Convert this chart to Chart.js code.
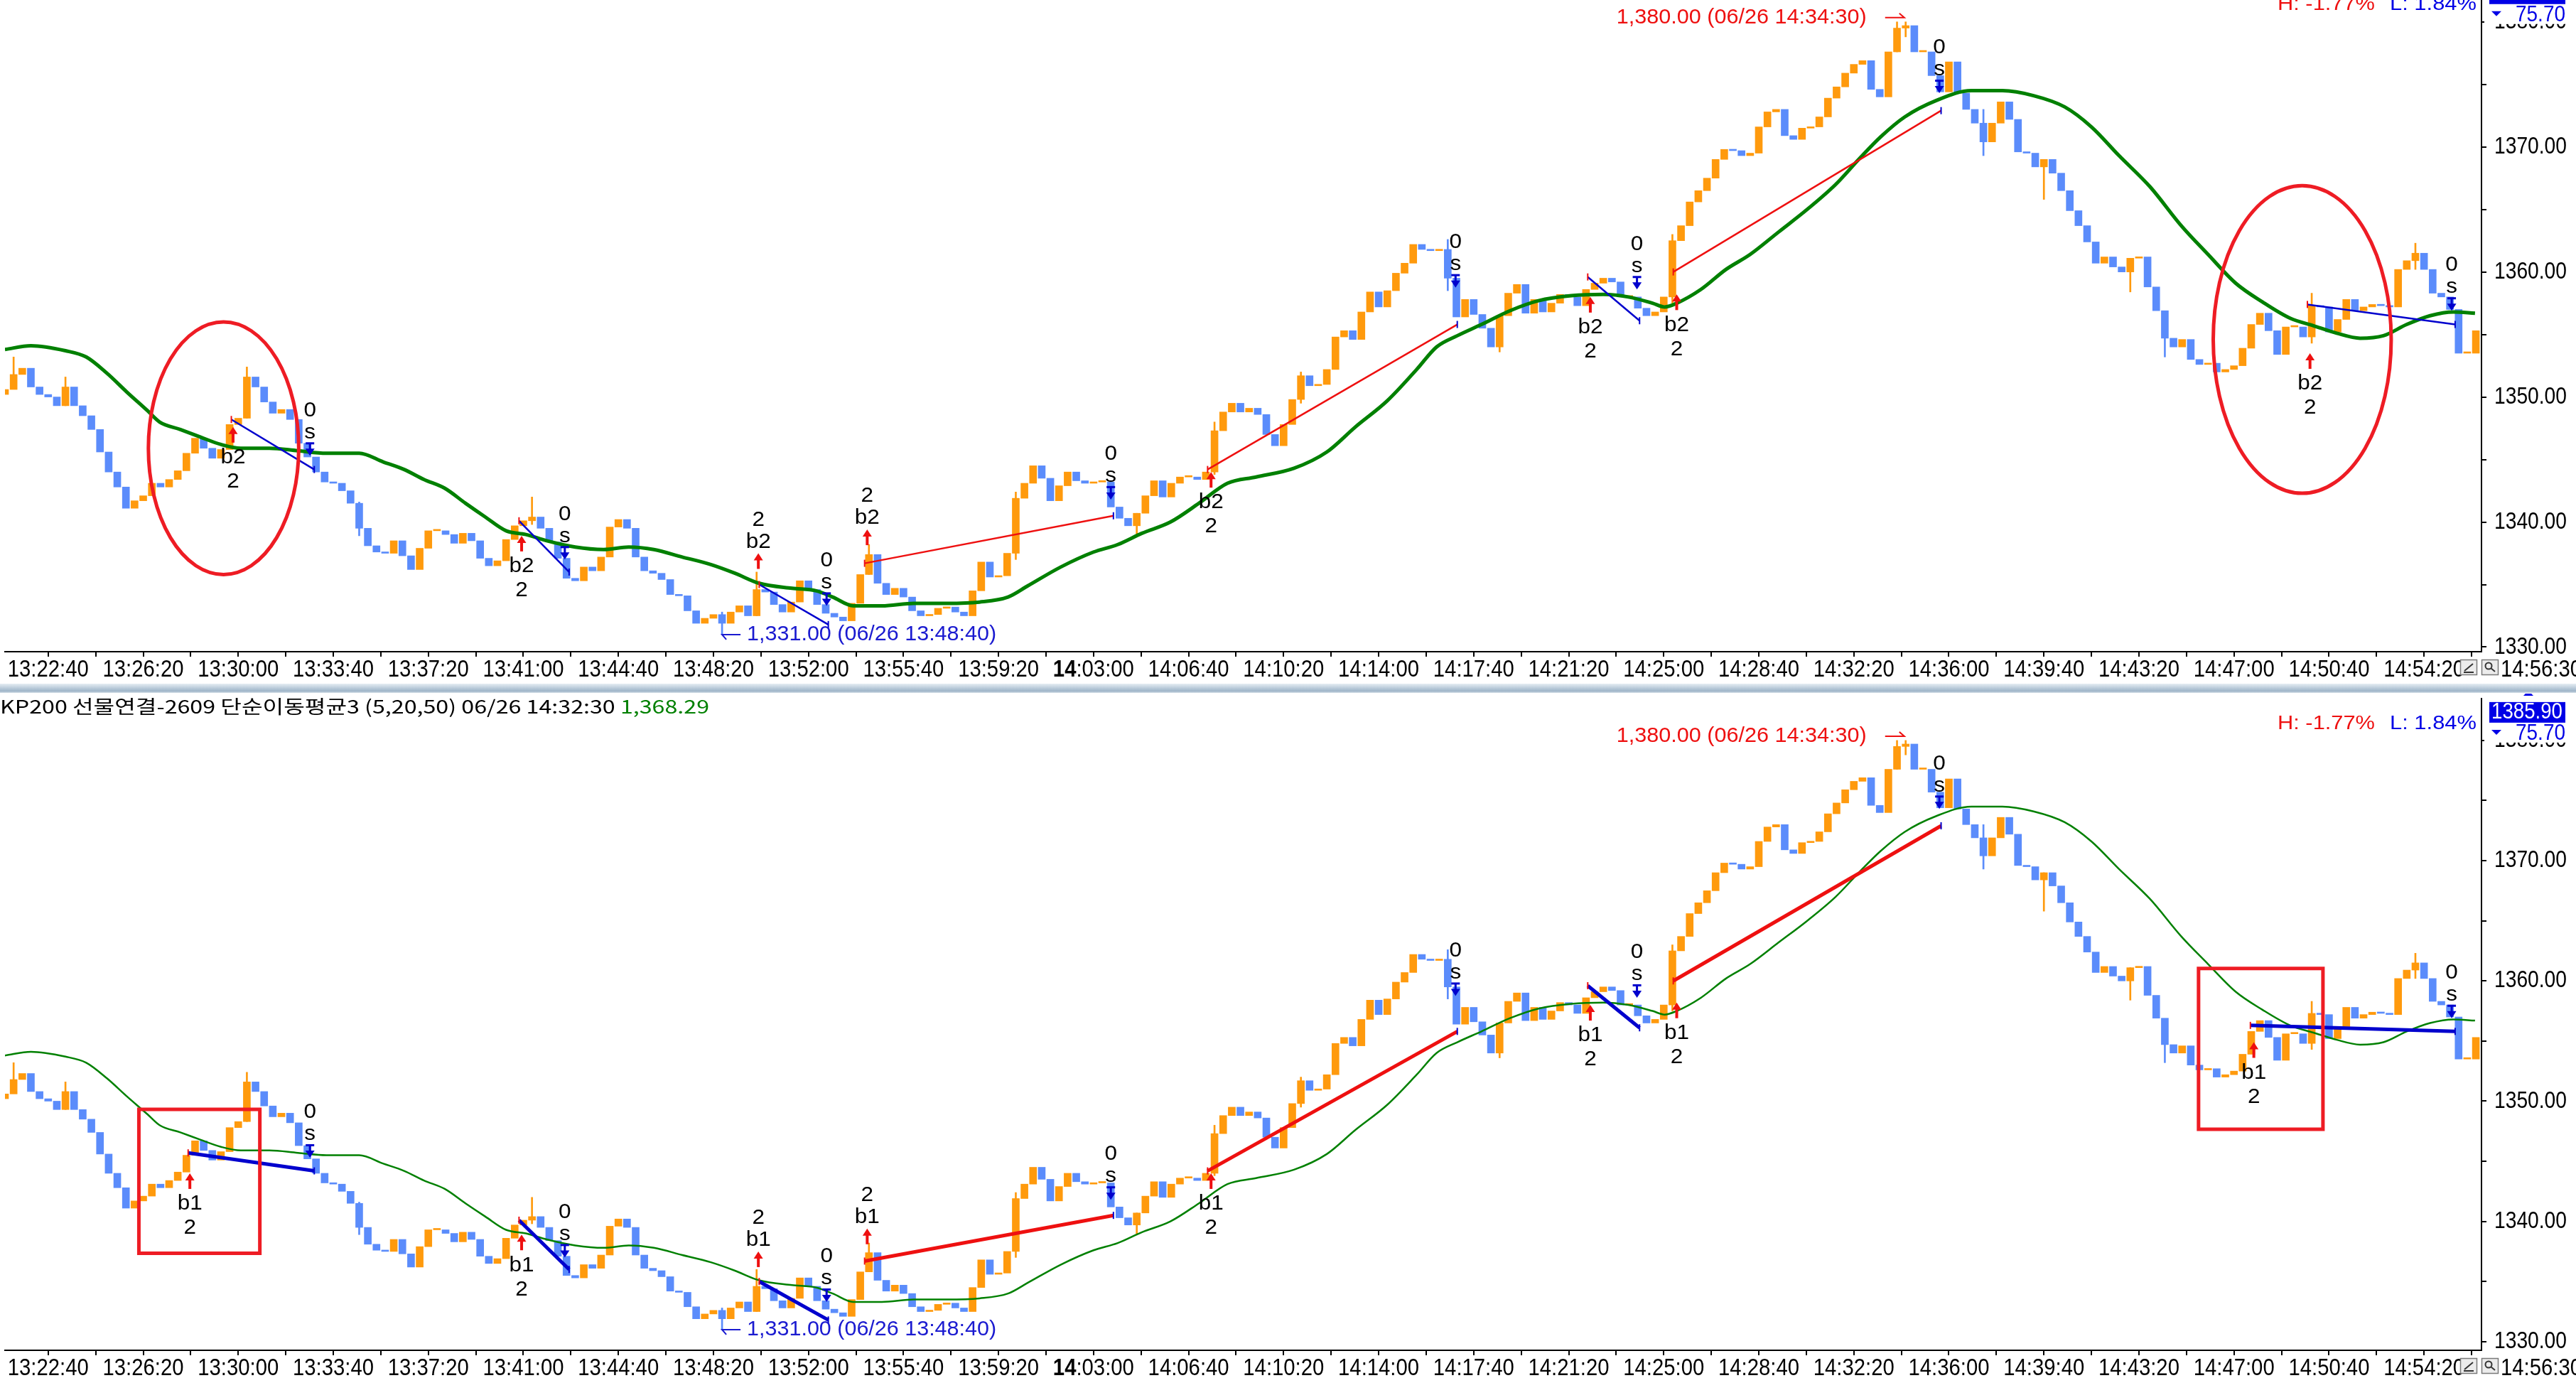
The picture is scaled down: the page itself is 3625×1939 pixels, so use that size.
<!DOCTYPE html>
<html>
<head>
<meta charset="utf-8">
<script src="https://cdn.jsdelivr.net/npm/chart.js@4.4.1/dist/chart.umd.min.js"></script>
<style>
html, body { margin: 0; padding: 0; background: #fff; overflow: hidden; }
body { width: 3625px; height: 1939px; position: relative; }
.panel { position: absolute; left: 0; width: 3625px; }
#topWrap { top: -35px; height: 997px; }
#bottomWrap { top: 976px; height: 963px; }
#sep { position: absolute; left: 0; top: 962px; width: 3625px; height: 13px;
  background: linear-gradient(#e6edf3, #b3c6d6 55%, #9fb5c8 80%, #d6e0e8); }
</style>
</head>
<body>
<div id="topWrap" class="panel"><canvas id="topChart" width="3625" height="997"></canvas></div>
<div id="sep"></div>
<div id="bottomWrap" class="panel"><canvas id="bottomChart" width="3625" height="963"></canvas></div>
<script>
// ---- data (20 second bars from 13:21:00) ----
const startTime = '13:21:00';
const barSec = 20;
const firstOpen = 1350.2;
const closes = [
  1350.6, 1351.8, 1352.3, 1350.8, 1350.2, 1350.0, 1349.3, 1350.8, 1349.3, 1348.5,
  1347.4, 1345.6, 1344.0, 1342.8, 1341.1, 1341.7, 1342.1, 1343.1, 1342.8, 1343.4,
  1344.1, 1345.5, 1346.7, 1345.9, 1345.1, 1345.8, 1347.8, 1348.3, 1351.6, 1350.8,
  1349.6, 1348.7, 1349.0, 1348.2, 1346.3, 1345.2, 1344.0, 1343.2, 1343.1, 1342.5,
  1341.5, 1339.5, 1338.1, 1337.6, 1337.5, 1338.5, 1337.3, 1336.2, 1337.9, 1339.3,
  1339.3, 1339.0, 1338.3, 1339.1, 1338.5, 1337.1, 1336.5, 1336.9, 1338.6, 1339.7,
  1340.1, 1340.4, 1339.5, 1338.4, 1337.1, 1335.5, 1335.3, 1336.4, 1336.1, 1337.2,
  1339.6, 1340.2, 1339.5, 1337.2, 1336.1, 1335.9, 1335.4, 1334.2, 1334.1, 1332.9,
  1331.9, 1332.3, 1332.6, 1331.9, 1332.8, 1333.3, 1332.5, 1334.6, 1334.4, 1333.4,
  1332.8, 1333.6, 1335.3, 1334.6, 1333.4, 1332.7, 1332.4, 1332.1, 1333.5, 1335.8,
  1337.4, 1335.1, 1334.2, 1334.7, 1334.0, 1332.9, 1332.5, 1332.6, 1333.1, 1333.2,
  1332.8, 1332.5, 1334.5, 1336.8, 1335.6, 1335.7, 1337.5, 1341.9, 1343.1, 1344.5,
  1343.5, 1341.7, 1342.9, 1344.0, 1343.3, 1343.1, 1343.2, 1343.2, 1341.2, 1340.3,
  1339.7, 1340.7, 1342.1, 1343.3, 1342.0, 1343.1, 1343.6, 1343.6, 1343.4, 1344.0,
  1347.3, 1348.8, 1349.5, 1348.8, 1349.1, 1348.6, 1347.0, 1346.1, 1347.8, 1349.8,
  1351.7, 1350.9, 1351.0, 1352.2, 1354.8, 1355.3, 1354.6, 1356.8, 1358.4, 1357.2,
  1358.5, 1359.9, 1360.7, 1362.2, 1361.8, 1361.7, 1361.8, 1359.5, 1356.4, 1357.8,
  1356.6, 1355.5, 1354.0, 1356.5, 1358.3, 1359.0, 1356.7, 1357.8, 1356.8, 1357.5,
  1358.2, 1358.0, 1357.3, 1358.6, 1359.1, 1359.5, 1359.2, 1358.0, 1358.0, 1357.1,
  1356.5, 1356.8, 1358.0, 1362.5, 1363.7, 1365.6, 1366.5, 1367.5, 1369.0, 1369.8,
  1369.7, 1369.3, 1369.5, 1371.6, 1372.8, 1373.0, 1370.9, 1370.6, 1371.5, 1371.6,
  1372.4, 1373.9, 1374.8, 1375.9, 1376.6, 1376.9, 1374.6, 1374.0, 1377.6, 1379.5,
  1379.7, 1377.6, 1377.6, 1375.7, 1374.4, 1376.8, 1374.3, 1373.0, 1371.9, 1370.4,
  1371.9, 1373.6, 1372.2, 1369.6, 1369.5, 1368.4, 1369.0, 1367.9, 1366.5, 1364.9,
  1363.7, 1362.4, 1360.7, 1361.2, 1360.4, 1360.0, 1361.1, 1361.2, 1358.8, 1356.9,
  1354.7, 1354.0, 1354.6, 1353.0, 1352.6, 1352.7, 1352.0, 1352.2, 1352.5, 1353.9,
  1355.8, 1356.7, 1355.3, 1353.4, 1355.6, 1355.6, 1354.8, 1357.3, 1357.2, 1355.2,
  1356.2, 1357.8, 1356.9, 1357.2, 1357.4, 1357.3, 1357.2, 1360.2, 1360.9, 1361.5,
  1360.2, 1358.3, 1358.0, 1357.0, 1353.5, 1353.5, 1355.3
];
// long wicks
const wickIdx  = [1, 7, 28, 41, 61, 83, 87, 100, 117, 131, 140, 150, 167, 173, 193, 219, 220, 229, 236, 246, 250, 267, 279];
const wickLow  = [1351.0, 1349.3, 1348.3, 1338.9, 1339.8, 1331.0, 1332.5, 1335.8, 1337.0, 1338.9, 1343.8, 1349.5, 1358.5, 1353.6, 1357.5, 1377.6, 1378.8, 1369.3, 1365.8, 1358.4, 1353.2, 1354.3, 1360.2];
const wickHigh = [1353.2, 1351.6, 1352.4, 1341.6, 1342.0, 1332.8, 1336.0, 1338.2, 1342.4, 1340.7, 1348.0, 1352.0, 1362.6, 1356.5, 1363.0, 1380.0, 1380.0, 1373.0, 1369.0, 1361.1, 1355.0, 1358.3, 1362.3];

// moving average
const maIdx = [0, 3, 7, 9.4, 11.8, 14.1, 16.5, 17.9, 20.3, 22.6, 25, 27.3, 30.6, 33.9, 37.2, 41, 43.8, 46.2,
  48.5, 50.9, 53.3, 55.6, 58, 60.3, 62.7, 66, 69.3, 72.2, 75.1, 78.4, 81.7, 84.5, 87.3, 91.1, 93.9, 95.8,
  98.2, 101.5, 105.2, 109, 112.8, 116.1, 118.4, 122.2, 126, 128.8, 131.6, 134.9, 138.2, 141.5, 144.8,
  149.2, 153, 156.3, 160, 163.4, 165.7, 168.1, 170.9, 174.2, 177.5, 181.3, 185, 187.9, 190.7, 192.1,
  193.5, 196.3, 199.2, 202, 205.3, 208.6, 211.9, 214.7, 217.1, 219.9, 223.5, 227.6, 231.2, 234.8,
  238.4, 241.5, 244.7, 248.3, 251.9, 255, 258.2, 261.3, 264.5, 267.2, 269.9, 272.6, 275.3, 278,
  280.7, 283.4, 285.9];
const maVals = [1353.8, 1354.1, 1353.7, 1353.2, 1351.9, 1350.4, 1348.9, 1348.0, 1347.4, 1346.8, 1346.2,
  1345.9, 1345.9, 1345.7, 1345.5, 1345.5, 1344.8, 1344.2, 1343.4, 1342.7, 1341.5, 1340.4, 1339.3, 1339.0,
  1338.5, 1338.0, 1337.8, 1338.0, 1337.8, 1337.2, 1336.6, 1335.9, 1335.1, 1334.7, 1334.5, 1334.0, 1333.3,
  1333.3, 1333.5, 1333.5, 1333.6, 1334.0, 1334.9, 1336.4, 1337.6, 1338.2, 1339.1, 1340.0, 1341.5, 1343.1,
  1343.6, 1344.3, 1345.6, 1347.6, 1349.7, 1352.2, 1354.0, 1354.9, 1355.8, 1356.9, 1357.7, 1358.1, 1358.2,
  1358.0, 1357.5, 1357.2, 1357.5, 1358.6, 1360.2, 1361.4, 1363.2, 1365.0, 1367.0, 1369.1, 1370.8, 1372.4,
  1373.7, 1374.5, 1374.5, 1374.1, 1373.2, 1371.6, 1369.3, 1366.8, 1363.7, 1361.4, 1359.1, 1357.6, 1356.3,
  1355.7, 1355.1, 1354.7, 1354.9, 1355.8, 1356.5, 1356.8, 1356.7];

const xTickLabels = ['13:22:40', '13:26:20', '13:30:00', '13:33:40', '13:37:20', '13:41:00', '13:44:40',
  '13:48:20', '13:52:00', '13:55:40', '13:59:20', '14:03:00', '14:06:40', '14:10:20', '14:14:00',
  '14:17:40', '14:21:20', '14:25:00', '14:28:40', '14:32:20', '14:36:00', '14:39:40', '14:43:20',
  '14:47:00', '14:50:40', '14:54:20'];
const lastTimeLabel = '14:56:30';
const yTickValues = [1330, 1335, 1340, 1345, 1350, 1355, 1360, 1365, 1370, 1375, 1380];

// trades: entries differ between the two strategies, exits are shared
const topEntryIdx = [26.2, 59.5, 87.3, 99.5, 139.2, 183.2, 193.1, 266.5];
const topEntryPx  = [1348.2, 1340.1, 1335.0, 1336.7, 1344.2, 1359.6, 1360.0, 1357.4];
const botEntryIdx = [21.2, 59.5, 87.3, 99.5, 139.2, 183.2, 193.1, 259.9];
const botEntryPx  = [1345.7, 1340.1, 1335.0, 1336.7, 1344.2, 1359.6, 1360.0, 1356.3];
const exitIdx = [35.8, 65.3, 95.3, 128.3, 168.1, 189.2, 224.1, 283.6];
const exitPx  = [1344.2, 1336.0, 1331.8, 1340.5, 1355.8, 1356.1, 1372.9, 1355.8];

// signal markers (arrow tip price)
const topBuyIdx = [26.4, 59.8, 87.2, 99.8, 139.6, 183.5, 193.5, 266.8];
const topBuyTip = [1347.6, 1338.9, 1337.5, 1339.4, 1344.0, 1358.0, 1358.2, 1353.5];
const botBuyIdx = [21.4, 59.8, 87.2, 99.8, 139.6, 183.5, 193.5, 260.3];
const botBuyTip = [1344.0, 1338.9, 1337.5, 1339.4, 1344.0, 1358.0, 1358.2, 1354.9];
const buySide = ['below', 'below', 'above', 'above', 'below', 'below', 'below', 'below'];
const sellIdx = [35.3, 64.8, 95.1, 128.0, 167.9, 188.9, 223.9, 283.2];
const sellTip = [1345.3, 1337.0, 1333.3, 1341.8, 1358.75, 1358.6, 1374.3, 1356.9];

const hiVal = 1380.00, hiTime = '14:34:30';
const loVal = 1331.00, loTime = '13:48:40';
const titleText = 'KP200 선물연결-2609 단순이동평균3 (5,20,50) 06/26 14:32:30 ';
const maCursorVal = '1,368.29';
const priceBox = '1385.90', rangeText = '75.70', hiPct = 'H: -1.77%', loPct = 'L: 1.84%';

// ---- helpers ----
const ORANGE = '#ff9a0d', BLUE = '#5b8cfb', GREEN = '#008000';
const RED = '#ee1010', DKBLUE = '#0000cd', BOXBLUE = '#0000e6';
const REG = "'Liberation Sans', Arial, sans-serif";

const toSec = t => { const [h, m, s] = t.split(':').map(Number); return h * 3600 + m * 60 + s; };
const toIdx = t => (toSec(t) - toSec(startTime)) / barSec;
const majorTicks = xTickLabels.map(toIdx);
const xTicks = majorTicks.concat(majorTicks.map(v => v + 5.5)).sort((a, b) => a - b);

// sx: horizontal squeeze factor, width: exact target width (overrides sx)
function text(ctx, str, x, y, font, color, align, width, sx) {
  ctx.save();
  ctx.font = font;
  ctx.fillStyle = color;
  ctx.textBaseline = 'middle';
  const w = ctx.measureText(str).width;
  const k = width ? width / w : (sx || 1);
  ctx.translate(x, y);
  ctx.scale(k, 1);
  const off = align === 'right' ? -w : align === 'center' ? -w / 2 : 0;
  ctx.fillText(str, off, 0);
  ctx.restore();
  return w * k;
}

function tri(ctx, x, y, w, h, color) {  // tip at (x,y); h>0 -> base below tip
  ctx.fillStyle = color;
  ctx.beginPath();
  ctx.moveTo(x, y);
  ctx.lineTo(x - w / 2, y + h);
  ctx.lineTo(x + w / 2, y + h);
  ctx.closePath();
  ctx.fill();
}

function makeOverlay(p) {
  return {
    id: 'overlay',
    afterDatasetsDraw(chart) {
      const ctx = chart.ctx, xs = chart.scales.x, ys = chart.scales.y, ca = chart.chartArea;
      const X = v => xs.getPixelForValue(v), Y = v => ys.getPixelForValue(v);

      ctx.save();
      ctx.beginPath();
      ctx.rect(ca.left, ca.top, ca.right - ca.left, ca.bottom - ca.top);
      ctx.clip();

      // highlight shapes
      ctx.strokeStyle = '#ee1c24';
      ctx.lineWidth = 5;
      p.highlights.forEach(h => {
        const x0 = X(h.i0), x1 = X(h.i1), y0 = Y(h.p1), y1 = Y(h.p0);
        ctx.beginPath();
        if (h.shape === 'ellipse') ctx.ellipse((x0 + x1) / 2, (y0 + y1) / 2, (x1 - x0) / 2, (y1 - y0) / 2, 0, 0, Math.PI * 2);
        else ctx.rect(x0, y0, x1 - x0, y1 - y0);
        ctx.stroke();
      });

      // buy signals
      const mfont = '30px ' + REG;
      p.buyIdx.forEach((bi, k) => {
        const x = X(bi), y = Y(p.buyTip[k]);
        tri(ctx, x, y, 13, 10, RED);
        ctx.fillStyle = RED;
        ctx.fillRect(x - 2, y + 9, 4, 13);
        if (buySide[k] === 'below') {
          text(ctx, p.tag, x, y + 43, mfont, '#000', 'center', 0, 1.05);
          text(ctx, '2', x, y + 77, mfont, '#000', 'center', 0, 1.05);
        } else {
          text(ctx, p.tag, x, y - 16, mfont, '#000', 'center', 0, 1.05);
          text(ctx, '2', x, y - 47, mfont, '#000', 'center', 0, 1.05);
        }
      });

      // exit signals
      sellIdx.forEach((si, k) => {
        const x = X(si), y = Y(sellTip[k]);
        tri(ctx, x, y, 13, -10, DKBLUE);
        ctx.fillStyle = DKBLUE;
        ctx.fillRect(x - 1.5, y - 17, 3, 8);
        ctx.fillRect(x - 6, y - 19, 12, 3);
        text(ctx, 's', x, y - 33, mfont, '#000', 'center', 0, 1.05);
        text(ctx, '0', x, y - 64, mfont, '#000', 'center', 0, 1.05);
      });

      // high / low notes
      const afont = '30px ' + REG;
      let x = X(toIdx(hiTime)), y = Y(hiVal) - 6;
      text(ctx, hiVal.toLocaleString('en-US', {minimumFractionDigits: 2}) + ' (06/26 ' + hiTime + ')',
        x - 61, y, afont, RED, 'right', 352);
      ctx.strokeStyle = RED; ctx.lineWidth = 2;
      ctx.beginPath(); ctx.moveTo(x - 35, y); ctx.lineTo(x - 8, y); ctx.lineTo(x - 15, y - 6); ctx.stroke();
      x = X(toIdx(loTime)); y = Y(loVal);
      text(ctx, loVal.toLocaleString('en-US', {minimumFractionDigits: 2}) + ' (06/26 ' + loTime + ')',
        x + 35, y, afont, '#1a1ad0', 'left', 351);
      ctx.strokeStyle = '#1a1ad0';
      ctx.beginPath(); ctx.moveTo(x + 26, y); ctx.lineTo(x, y); ctx.lineTo(x + 6, y + 7); ctx.stroke();
      ctx.restore();

      // title line
      ctx.save();
      const tfont = '26px "Noto Sans CJK KR", sans-serif';
      ctx.font = tfont;
      const w1 = ctx.measureText(titleText).width, w2 = ctx.measureText(maCursorVal).width;
      const sc = 998 / (w1 + w2);
      text(ctx, titleText, 0, ca.top + 11, tfont, '#000', 'left', w1 * sc);
      text(ctx, maCursorVal, w1 * sc, ca.top + 11, tfont, GREEN, 'left', w2 * sc);
      ctx.restore();

      // price axis labels
      const yfont = '33px ' + REG;
      yTickValues.filter(v => v % 10 === 0).forEach(v => {
        text(ctx, v.toFixed(2), ca.right + 18, Y(v), yfont, '#000', 'left', 102);
      });

      // right-hand price boxes
      const y80 = Y(1380);
      text(ctx, hiPct, 3205, y80 - 24, '28px ' + REG, RED, 'left', 137);
      text(ctx, loPct, 3363, y80 - 24, '28px ' + REG, BOXBLUE, 'left', 122);
      tri(ctx, 3558, y80 - 70, 14, 7, BOXBLUE);
      ctx.fillStyle = BOXBLUE;
      ctx.fillRect(3503, y80 - 54, 107, 29);
      text(ctx, priceBox, 3556, y80 - 39, '31px ' + REG, '#fff', 'center', 100);
      ctx.fillStyle = '#fff';
      ctx.fillRect(3496, y80 - 24, 129, 27);
      tri(ctx, 3513, y80 - 8, 14, -7, BOXBLUE);
      text(ctx, rangeText, 3610, y80 - 9, '31px ' + REG, BOXBLUE, 'right', 70);

      // time axis labels
      const ly = ca.bottom + 26;
      const nfont = '34px ' + REG;
      const LW = 114;
      xTickLabels.forEach((l, k) => {
        const tx = X(majorTicks[k]);
        const newHour = k > 0 && l.slice(0, 2) !== xTickLabels[k - 1].slice(0, 2);
        if (!newHour) { text(ctx, l, tx, ly, nfont, '#000', 'center', LW); return; }
        ctx.font = 'bold ' + nfont;
        const wb = ctx.measureText(l.slice(0, 2)).width;
        ctx.font = nfont;
        const wr = ctx.measureText(l.slice(2)).width;
        const f = LW / (wb + wr);
        text(ctx, l.slice(0, 2), tx - LW / 2, ly, 'bold ' + nfont, '#000', 'left', wb * f);
        text(ctx, l.slice(2), tx - LW / 2 + wb * f, ly, nfont, '#000', 'left', wr * f);
      });
      text(ctx, lastTimeLabel, 3519, ly, nfont, '#000', 'left', LW);
      [3462, 3492].forEach((bx, k) => {
        const by = ca.bottom + 11;
        ctx.fillStyle = '#ececec'; ctx.fillRect(bx, by, 24, 22);
        ctx.strokeStyle = '#7a7a7a'; ctx.lineWidth = 1.5; ctx.strokeRect(bx + 0.5, by + 0.5, 23, 21);
        ctx.strokeStyle = '#333'; ctx.lineWidth = 2;
        ctx.beginPath();
        if (k === 0) { ctx.moveTo(bx + 6, by + 16); ctx.lineTo(bx + 18, by + 6); ctx.moveTo(bx + 5, by + 18); ctx.lineTo(bx + 19, by + 18); }
        else { ctx.arc(bx + 10, by + 9, 4.5, 0, Math.PI * 2); ctx.moveTo(bx + 13, by + 12); ctx.lineTo(bx + 19, by + 17); }
        ctx.stroke();
      });
    }
  };
}

function makePanel(id, p) {
  const bars = closes.map((c, i) => ({x: i, y: [i === 0 ? firstOpen : closes[i - 1], c]}));
  const up = i => closes[i] >= (i === 0 ? firstOpen : closes[i - 1]);
  const wicks = wickIdx.map((i, k) => ({x: i, y: [wickLow[k], wickHigh[k]]}));
  const ma = maIdx.map((i, k) => ({x: i, y: maVals[k]}));
  const trades = p.entryIdx.map((e, k) => ({
    type: 'line',
    data: [{x: e, y: p.entryPx[k]}, {x: exitIdx[k], y: exitPx[k]}],
    borderColor: exitPx[k] > p.entryPx[k] ? RED : DKBLUE,
    borderWidth: p.tradeWidth,
    pointStyle: 'line', pointRotation: 90, pointRadius: 5,
    pointBorderColor: [RED, DKBLUE], pointBorderWidth: 2,
    order: 1
  }));
  const axisGrid = {display: true, drawOnChartArea: false, drawTicks: true, tickLength: 7, color: '#000', lineWidth: 2, offset: false};
  new Chart(document.getElementById(id), {
    type: 'bar',
    data: {
      datasets: [
        {data: wicks, grouped: false, barThickness: 2, order: 4,
          backgroundColor: c => up(c.raw.x) ? ORANGE : BLUE},
        {data: bars, grouped: false, barThickness: 10, minBarLength: 2, borderSkipped: false, order: 3,
          backgroundColor: c => up(c.raw.x) ? ORANGE : BLUE},
        {type: 'line', data: ma, borderColor: GREEN, borderWidth: p.maWidth, pointRadius: 0,
          cubicInterpolationMode: 'monotone', order: 2},
        ...trades
      ]
    },
    options: {
      responsive: false, animation: false, devicePixelRatio: 1,
      layout: {padding: {top: 4, left: 0, right: 0, bottom: 0}},
      plugins: {legend: {display: false}, tooltip: {enabled: false}},
      scales: {
        x: {
          type: 'linear', min: 0, max: 286.65, offset: false,
          afterBuildTicks: s => { s.ticks = xTicks.map(v => ({value: v})); },
          afterFit: s => { s.height = p.xAxisH; s.paddingLeft = 0; s.paddingRight = 0; },
          grid: axisGrid,
          border: {display: true, color: '#000', width: 2},
          ticks: {autoSkip: false, maxRotation: 0, padding: 0, callback: () => ''}
        },
        y: {
          position: 'right', min: p.yMin, max: p.yMax,
          afterBuildTicks: s => { s.ticks = yTickValues.map(v => ({value: v})); },
          afterFit: s => { s.width = 133; s.paddingTop = 0; s.paddingBottom = 0; },
          grid: axisGrid,
          border: {display: true, color: '#000', width: 2},
          ticks: {padding: 11, callback: () => ''}
        }
      }
    },
    plugins: [makeOverlay(p)]
  });
}

makePanel('topChart', {
  yMin: 1329.63, yMax: 1383.34, xAxisH: 45, maWidth: 5, tradeWidth: 2.5, tag: 'b2',
  entryIdx: topEntryIdx, entryPx: topEntryPx, buyIdx: topBuyIdx, buyTip: topBuyTip,
  highlights: [
    {shape: 'ellipse', i0: 16.6, i1: 34.0, p0: 1335.8, p1: 1356.0},
    {shape: 'ellipse', i0: 255.6, i1: 276.2, p0: 1342.3, p1: 1366.9}
  ]
});
makePanel('bottomChart', {
  yMin: 1329.28, yMax: 1383.48, xAxisH: 39, maWidth: 2.5, tradeWidth: 5, tag: 'b1',
  entryIdx: botEntryIdx, entryPx: botEntryPx, buyIdx: botBuyIdx, buyTip: botBuyTip,
  highlights: [
    {shape: 'rect', i0: 15.5, i1: 29.5, p0: 1337.35, p1: 1349.31},
    {shape: 'rect', i0: 253.9, i1: 268.3, p0: 1347.66, p1: 1361.03}
  ]
});
</script>
</body>
</html>
